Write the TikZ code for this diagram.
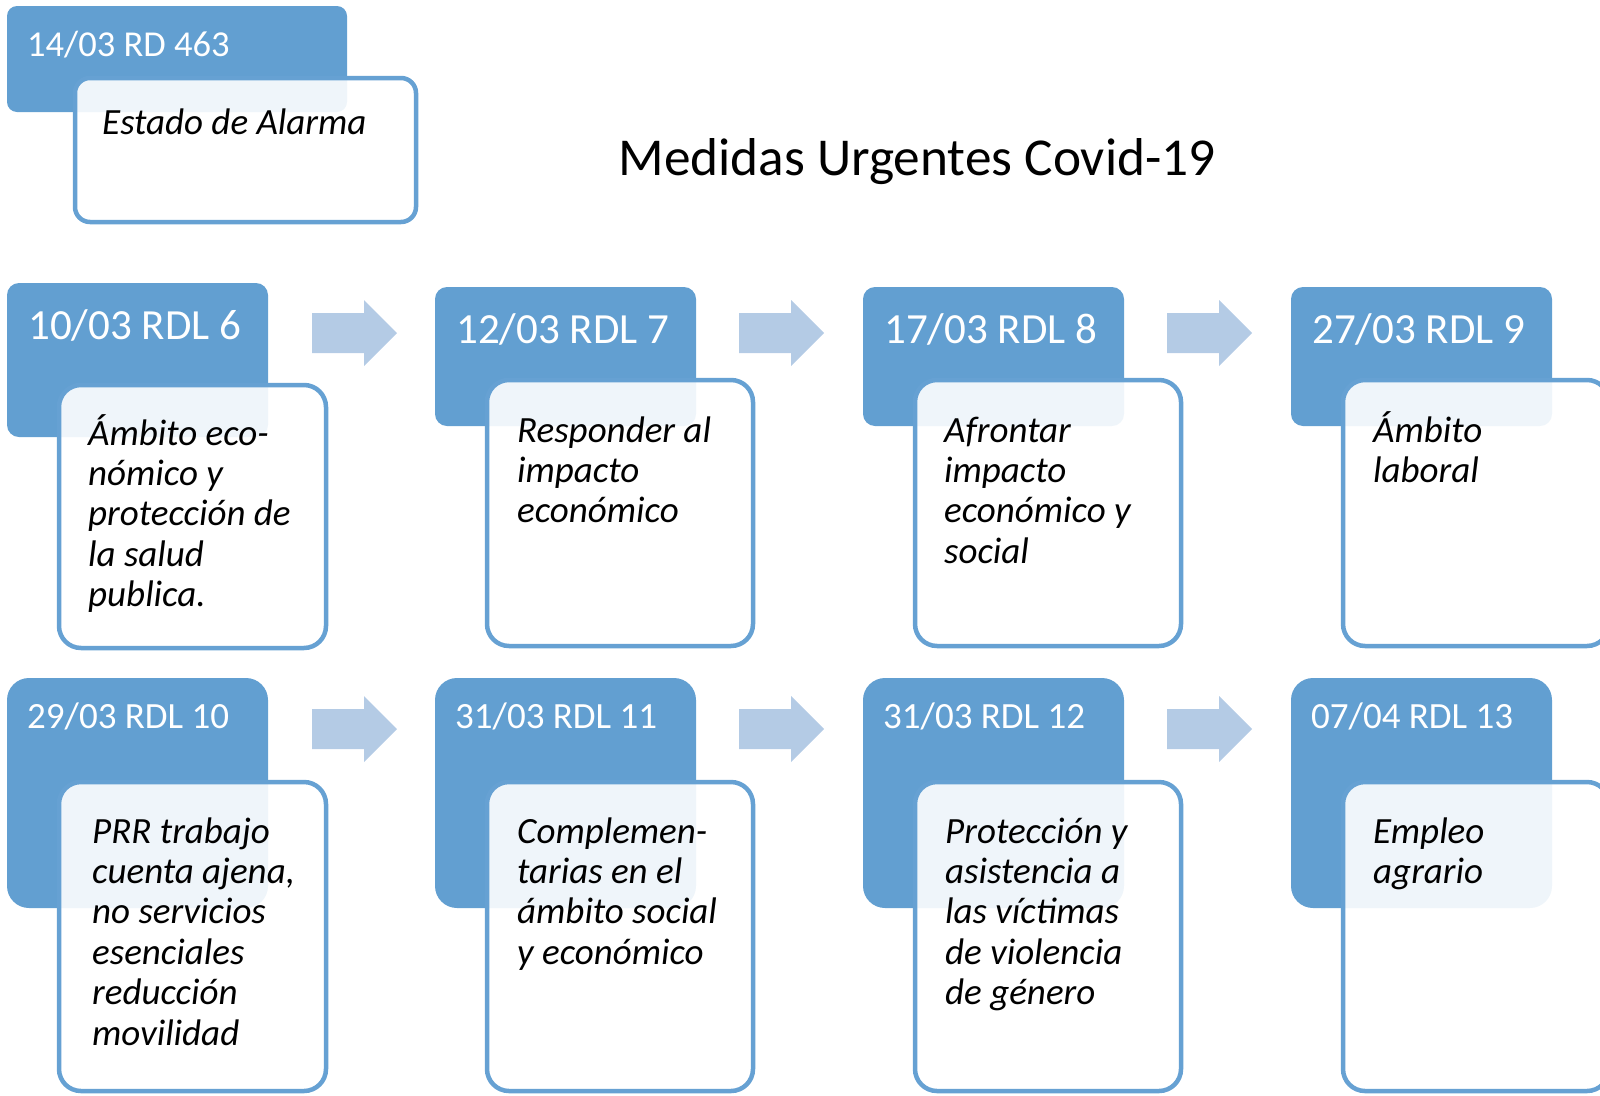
\documentclass[tikz,border=0pt]{standalone}
\usepackage{fontspec}
\setmainfont{Carlito}
\definecolor{hdr}{HTML}{629FD1}
\definecolor{bord}{HTML}{66A1D3}
\definecolor{arw}{HTML}{B4CBE5}
\begin{document}
\begin{tikzpicture}[x=1pt,y=-1pt,
  bluebox/.style={fill=hdr, inner sep=0pt, outer sep=0pt, anchor=north west},
  whitebox/.style={fill=white, fill opacity=0.9, draw=bord, line width=4.5pt, inner sep=0pt, outer sep=0pt, anchor=north west, rounded corners=22pt},
  hdrbig/.style={text=white, font=\fontsize{43}{50}\selectfont, inner sep=0pt, anchor=base west},
  hdrsmall/.style={text=white, font=\fontsize{37}{44}\selectfont, inner sep=0pt, anchor=base west},
  bodytext/.style={font=\fontsize{37}{40.4}\selectfont\itshape, align=left, inner sep=0pt, anchor=base west},
  arrowfill/.style={fill=arw, draw=none}
]
\useasboundingbox (0,0) rectangle (1600,1095);
\clip (0,0) rectangle (1600,1095);

% top block
\node[bluebox, rounded corners=10pt, minimum width=340pt, minimum height=106pt] (b0) at (7,6) {};
\node[whitebox, rounded corners=15pt, minimum width=341pt, minimum height=144pt] (w0) at (75,78) {};
\node[text=white, font=\fontsize{36.5}{44}\selectfont, inner sep=0pt, anchor=base west] (h0) at (27,56) {14/03 RD 463};
\node[bodytext] (t0) at (102,134) {Estado de Alarma};

% title
\node[font=\fontsize{53.3}{60}\selectfont, inner sep=0pt, anchor=base] (title) at (917,175) {Medidas Urgentes Covid-19};

% row 1 blue boxes
\node[bluebox, rounded corners=12pt, minimum width=261pt, minimum height=154pt] (b1) at (7,283) {};
\node[bluebox, rounded corners=12pt, minimum width=261pt, minimum height=139pt] (b2) at (435,287) {};
\node[bluebox, rounded corners=12pt, minimum width=261pt, minimum height=139pt] (b3) at (863,287) {};
\node[bluebox, rounded corners=12pt, minimum width=261pt, minimum height=139pt] (b4) at (1291,287) {};

% row 1 white boxes
\node[whitebox, minimum width=267pt, minimum height=263pt] (w1) at (59,385) {};
\node[whitebox, minimum width=266pt, minimum height=266pt] (w2) at (487,380) {};
\node[whitebox, minimum width=266pt, minimum height=266pt] (w3) at (915,380) {};
\node[whitebox, minimum width=266pt, minimum height=266pt] (w4) at (1343,380) {};

% row 1 arrows
\foreach \x in {312,739,1167}{
  \path[arrowfill, shift={(\x,333)}] (0,-20) -- (52,-20) -- (52,-33) -- (85,0) -- (52,33) -- (52,20) -- (0,20) -- cycle;
}

% row 1 texts (anchor = baseline of last line)
\node[hdrbig] (h1) at (28,339) {10/03 RDL 6};
\node[hdrbig] (h2) at (456,343) {12/03 RDL 7};
\node[hdrbig] (h3) at (884,343) {17/03 RDL 8};
\node[hdrbig] (h4) at (1312,343) {27/03 RDL 9};

\node[bodytext] (t1) at (88,606.6) {Ámbito eco-\\nómico y\\protección de\\la salud\\publica.};
\node[bodytext] (t2) at (517,522.8) {Responder al\\impacto\\económico};
\node[bodytext] (t3) at (944,563.2) {Afrontar\\impacto\\económico y\\social};
\node[bodytext] (t4) at (1373,482.4) {Ámbito\\laboral};

% row 2 blue boxes
\node[bluebox, rounded corners=22pt, minimum width=261pt, minimum height=230pt] (b5) at (7,678) {};
\node[bluebox, rounded corners=22pt, minimum width=261pt, minimum height=230pt] (b6) at (435,678) {};
\node[bluebox, rounded corners=22pt, minimum width=261pt, minimum height=230pt] (b7) at (863,678) {};
\node[bluebox, rounded corners=22pt, minimum width=261pt, minimum height=230pt] (b8) at (1291,678) {};

% row 2 white boxes
\node[whitebox, minimum width=267pt, minimum height=309pt] (w5) at (59,782) {};
\node[whitebox, minimum width=266pt, minimum height=309pt] (w6) at (487,782) {};
\node[whitebox, minimum width=266pt, minimum height=309pt] (w7) at (915,782) {};
\node[whitebox, minimum width=266pt, minimum height=309pt] (w8) at (1343,782) {};

% row 2 arrows
\foreach \x in {312,739,1167}{
  \path[arrowfill, shift={(\x,729)}] (0,-20) -- (52,-20) -- (52,-33) -- (85,0) -- (52,33) -- (52,20) -- (0,20) -- cycle;
}

% row 2 texts
\node[hdrsmall] (h5) at (27,728) {29/03 RDL 10};
\node[hdrsmall] (h6) at (455,728) {31/03 RDL 11};
\node[hdrsmall] (h7) at (883,728) {31/03 RDL 12};
\node[hdrsmall] (h8) at (1311,728) {07/04 RDL 13};

\node[bodytext] (t5) at (92,1045) {PRR trabajo\\cuenta ajena,\\no servicios\\esenciales\\reducción\\movilidad};
\node[bodytext] (t6) at (517,964.2) {Complemen-\\tarias en el\\ámbito social\\y económico};
\node[bodytext] (t7) at (945,1004.6) {Protección y\\asistencia a\\las víctimas\\de violencia\\de género};
\node[bodytext] (t8) at (1373,883.4) {Empleo\\agrario};
\end{tikzpicture}
\end{document}
